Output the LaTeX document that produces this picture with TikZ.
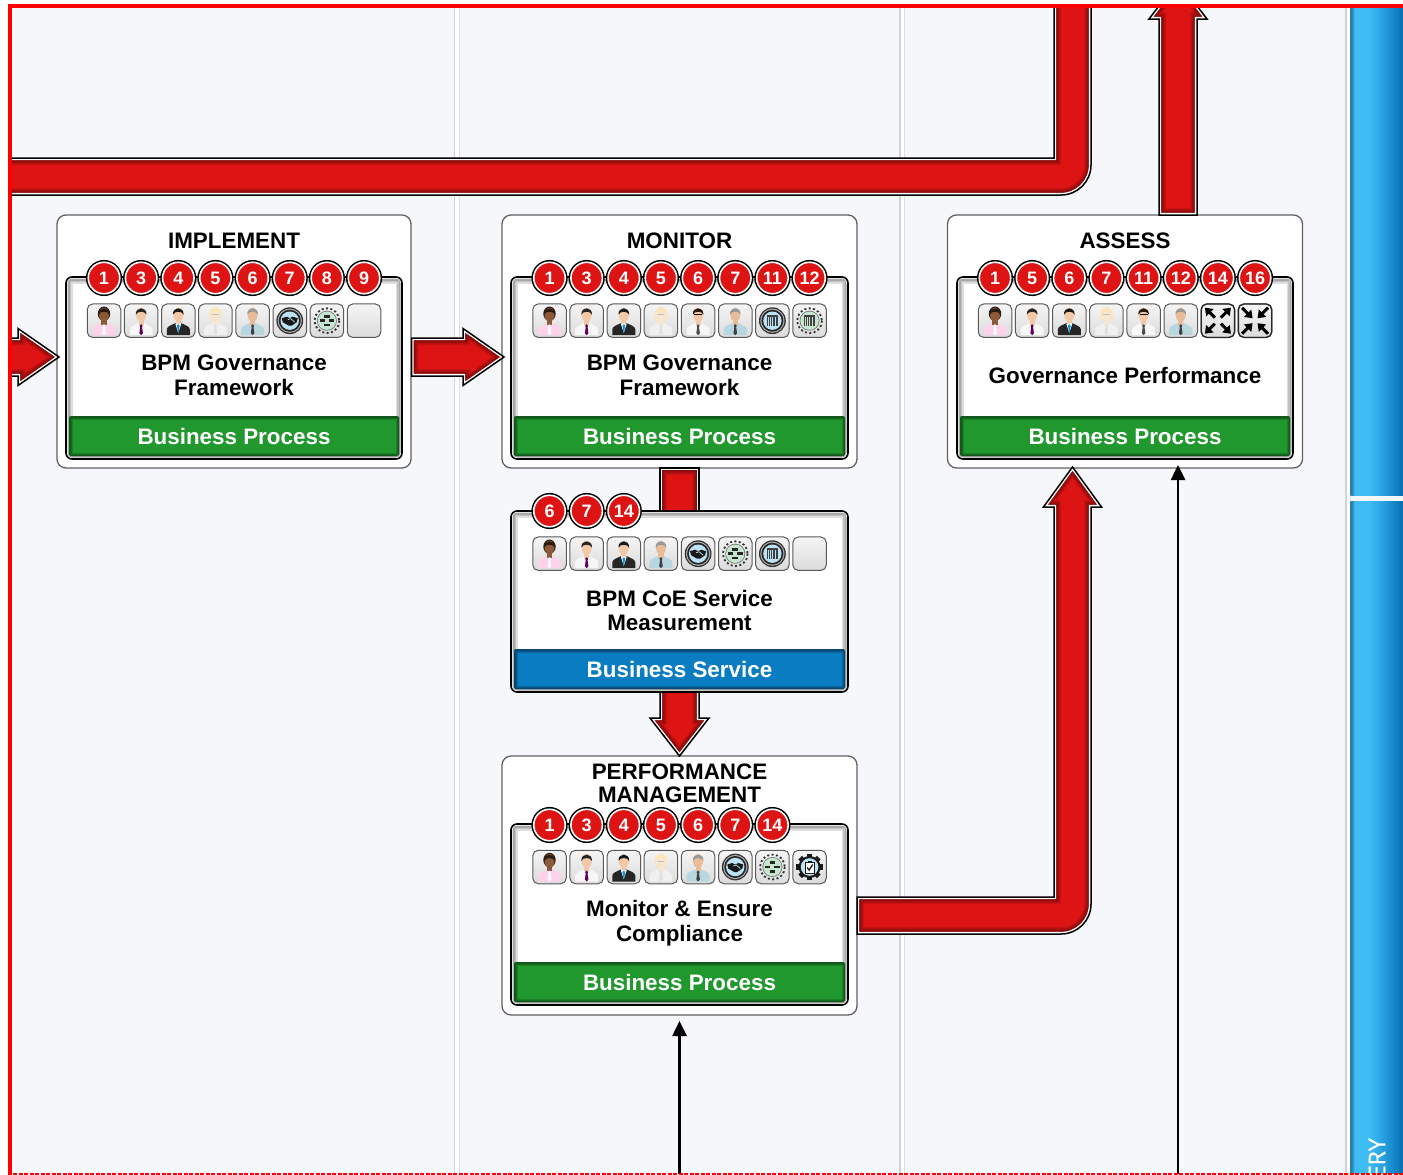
\documentclass[tikz,border=0pt]{standalone}
\usepackage{fontspec}
\setmainfont{Liberation Sans}
\newfontfamily\eryfont[FakeBold=0.7]{Open Sans}
\usetikzlibrary{calc,arrows.meta}
\definecolor{pagebg}{HTML}{F5F7FA}
\definecolor{redbase}{HTML}{DE1414}
\definecolor{greenbase}{HTML}{20982E}
\definecolor{bluebase}{HTML}{0A7CC2}
\definecolor{iceblue}{HTML}{BCE2F6}
\definecolor{mint}{HTML}{C6E6CE}
\definecolor{sepgray}{HTML}{CFD3D6}
\definecolor{skinA}{HTML}{8C5A38}
\definecolor{skinB}{HTML}{F2C8A6}
\definecolor{skinD}{HTML}{F6E6D2}
\definecolor{skinE}{HTML}{E8BC98}
\definecolor{stripZ}{HTML}{2A7FA8}
\definecolor{stripA}{HTML}{3DBDF4}
\definecolor{stripB}{HTML}{2EA8E6}
\definecolor{stripC}{HTML}{1486C8}
\definecolor{stripD}{HTML}{0B6CAC}
\pgfdeclarehorizontalshading{stripshade}{100bp}{
  color(0bp)=(stripZ);color(25bp)=(stripZ);color(26bp)=(stripZ);
  color(29bp)=(stripA);color(42bp)=(stripA);color(52bp)=(stripB);color(67bp)=(stripC);color(75bp)=(stripD);color(100bp)=(stripD)}
\pgfdeclarelayer{outerlayer}
\pgfdeclarelayer{arrowlayer}
\pgfdeclarelayer{toplayer}
\pgfsetlayers{outerlayer,arrowlayer,main,toplayer}
\tikzset{
  outerbox/.style={draw=black!62,fill=white,line width=1.3pt,rounded corners=9pt,inner sep=0pt,outer sep=0pt},
  framebox/.style={fill=white,inner sep=0pt,outer sep=0pt},
  bandbox/.style={inner sep=0pt,outer sep=0pt,rounded corners=2pt,text=white,
    font=\fontsize{22.4}{24}\selectfont\bfseries},
  titletext/.style={font=\fontsize{22.4}{23.2}\selectfont\bfseries,align=center,inner sep=0pt},
  bodytext/.style={font=\fontsize{22.4}{24.8}\selectfont\bfseries,align=center,inner sep=0pt},
  badge/.style={circle,minimum size=31.5pt,inner sep=0pt,outer sep=0pt,fill=redbase,draw=white,line width=1.6pt,
    text=white,font=\fontsize{18}{18}\selectfont\bfseries,
    preaction={draw=black,line width=4.6pt}},
  tile/.style={minimum size=33.5pt,inner sep=0pt,outer sep=0pt,rounded corners=5.5pt,draw=black!65,line width=1pt,
    top color=white!96!black,bottom color=black!14},
  feedline/.style={black,line width=2.6pt,-{Triangle[length=15pt,width=14pt]}},
}
\newcommand\redshape[1]{%
  \begin{scope}\clip #1;\fill[redbase] #1;
    \foreach \w in {14,12,10,8,6}{\draw[black,opacity=.09,line width=\w pt] #1;}
    \draw[white,line width=4.2pt] #1;
  \end{scope}
  \draw[black,line width=1.5pt] #1;}
% straight block arrows: tail, tip
\newcommand\arrowR[2]{\redshape{($(#1)+(0,-19)$) -- ($(#2)+(-41,-19)$) -- ($(#2)+(-41,-28.5)$) -- (#2) -- ($(#2)+(-41,28.5)$) -- ($(#2)+(-41,19)$) -- ($(#1)+(0,19)$) -- cycle}}
\newcommand\arrowU[2]{\redshape{($(#1)+(-19,0)$) -- ($(#2)+(-19,38)$) -- ($(#2)+(-29,38)$) -- (#2) -- ($(#2)+(29,38)$) -- ($(#2)+(19,38)$) -- ($(#1)+(19,0)$) -- cycle}}
\newcommand\arrowD[2]{\redshape{($(#1)+(-19.5,0)$) -- ($(#2)+(-19.5,-38)$) -- ($(#2)+(-29.5,-38)$) -- (#2) -- ($(#2)+(29.5,-38)$) -- ($(#2)+(19.5,-38)$) -- ($(#1)+(19.5,0)$) -- cycle}}
\newcommand\shaftD[2]{\redshape{($(#1)+(-19.5,0)$) -- ($(#2)+(-19.5,0)$) -- ($(#2)+(19.5,0)$) -- ($(#1)+(19.5,0)$) -- cycle}}
\newcommand\taskframe[7]{%
  \node[framebox,minimum width={(#4-#2)*1pt},minimum height={(#5-#3)*1pt}] (#1) at ({(#2+#4)/2},{(#3+#5)/2}) {};
  \begin{scope}
    \clip[rounded corners=6pt] (#1.south west) rectangle (#1.north east);
    \foreach \w in {13,10,7}{\draw[black,opacity=.13,line width=\w pt] (#1.south west) rectangle (#1.north east);}
    \draw[white,line width=3pt,rounded corners=6pt] (#1.south west) rectangle (#1.north east);
  \end{scope}
  \node[bandbox,fill=#6,minimum width={(#4-#2-6)*1pt},minimum height=40pt] (#1band) at ({(#2+#4)/2},{#5-23}) {#7};
  \begin{scope}
    \clip[rounded corners=2pt] (#1band.south west) rectangle (#1band.north east);
    \foreach \w in {7,5,3}{\draw[black,opacity=.16,line width=\w pt] (#1band.south west) rectangle (#1band.north east);}
  \end{scope}
  \draw[black,line width=1.6pt,rounded corners=6pt] (#1.south west) rectangle (#1.north east);}
\newcommand\badges[4]{%
  \foreach \n [count=\i] in {#4}{\node[badge] (#1b\i) at ({#2+(\i-1)*37.15},#3) {\n};}}
\newcommand\icons[4]{%
  \foreach \c [count=\i] in {#4}{%
    \begin{scope}[shift={({#2+(\i-1)*37.15},#3)}]
      \node[tile] (#1t\i) at (0,0) {};
      \csname ic\c\endcsname
    \end{scope}}}
% args: skin, hair, shirt, tie
\newcommand\personfig[4]{%
  \fill[#3] (-11.5,14.5) -- (-11.5,8.5) .. controls (-11,5.5) and (-7,4.5) .. (-3,2.5) -- (3,2.5) .. controls (7,4.5) and (11,5.5) .. (11.5,8.5) -- (11.5,14.5) -- cycle;
  \fill[#1] (-2.6,-2) rectangle (2.6,4);
  \fill[#1] (0,-6) ellipse (5 and 7);
  \fill[#2] (-5.3,-6) .. controls (-6,-14.5) and (6,-14.5) .. (5.3,-6) .. controls (4,-10) and (-4,-10) .. cycle;
  \fill[#4] (0,3.5) -- (-1.5,5) -- (-0.9,6.5) -- (-1.8,12.5) -- (0,14.5) -- (1.8,12.5) -- (0.9,6.5) -- (1.5,5) -- cycle;}
\newcommand\ica{%
  \fill[black!70!skinA] (0,-7) ellipse (6.2 and 7.2);
  \personfig{skinA}{black!70!skinA}{pink!75!magenta!40!white}{white}}
\newcommand\icb{\personfig{skinB}{black!85}{white!97!black}{violet!75!black}}
\newcommand\icc{\personfig{skinB}{black!90}{black!85}{black!85}
  \fill[white] (-3,3) -- (3,3) -- (0,12) -- cycle;
  \fill[cyan!80!blue] (0,3.5) -- (-1.4,5) -- (0,13) -- (1.4,5) -- cycle;}
\newcommand\icd{%
  \fill[yellow!30!orange!25!white] (0,-6) ellipse (6.4 and 7.6);
  \personfig{skinD}{yellow!30!orange!25!white}{white!94!black}{white!88!black}
  \draw[black!25,line width=.6pt] (-3.5,-6) -- (3.5,-6);}
\newcommand\ice{\personfig{skinE}{black!40}{blue!25!cyan!18!white!88!black}{black!75}}
\newcommand\icf{\personfig{skinB}{black!80!brown}{white!97!black}{black!70}
  \draw[black,line width=.8pt] (-4,-6) -- (4,-6);}
\newcommand\ringbase{%
  \fill[black!80] (0,0) circle (13.4);\fill[black!30] (0,0) circle (12.1);
  \fill[black!85] (0,0) circle (11);\fill[iceblue] (0,0) circle (9.2);}
\newcommand\gearbase{%
  \draw[black!80,line width=1.8pt,dash pattern=on 2pt off 2.4pt] (0,0) circle (12.4);
  \fill[black!55] (0,0) circle (10);\fill[mint] (0,0) circle (9.2);}
\newcommand\handglyph{%
  \fill[black!90] (-8,-2.5) -- (-3,-4) -- (0,-2.5) -- (3,-4) -- (8,-2.5) -- (7,1.5) -- (2,5) -- (-1,5) -- (-7,1.5) -- cycle;
  \draw[iceblue,line width=.7pt] (-2,-1) -- (1,-2) -- (5,1.5);}
\newcommand\barglyph{%
  \fill[black!75] (-5.5,-6) rectangle (5.5,-4);
  \foreach \xx/\ww in {-5.5/1.2,-3.4/.7,-1.9/1.3,.2/.7,1.6/1.1,3.4/.6,4.5/1}{\fill[black!75] (\xx,-4) rectangle ++(\ww,9);}}
\newcommand\ichand{\ringbase\handglyph}
\newcommand\icbar{\ringbase\barglyph}
\newcommand\icbargear{\gearbase\barglyph}
\newcommand\icflow{\gearbase
  \fill[black!85] (-2.8,-5.6) rectangle (2.8,-3);
  \fill[black!85] (-7.4,-1.3) rectangle (-2,1.3);
  \fill[black!85] (2,-1.3) rectangle (7.4,1.3);
  \fill[black!85] (-2.8,3) rectangle (2.8,5.6);}
\newcommand\iccheck{%
  \foreach \a in {0,45,...,315}{\fill[black!90,rotate=\a] (-2.6,-13.2) rectangle (2.6,-8);}
  \fill[black!90] (0,0) circle (11);\fill[iceblue] (0,0) circle (8.8);
  \fill[white,draw=black!90,line width=1pt] (-4.5,-5) rectangle (4.5,6);
  \fill[black!90] (-2,-6.4) rectangle (2,-4);
  \draw[black!90,line width=1.3pt] (-2.5,0.5) -- (-.5,3) -- (3.2,-2.5);}
\newcommand\cornerframe{\draw[black!85,line width=1.3pt,rounded corners=5.5pt] (-16.7,-16.7) rectangle (16.7,16.7);}
\newcommand\icexp{\cornerframe
  \foreach \sx/\sy in {1/1,1/-1,-1/1,-1/-1}{\draw[black,line width=3pt,-{Triangle[length=7pt,width=10pt]}] (\sx*3,\sy*3) -- (\sx*13,\sy*13);}}
\newcommand\iccom{\cornerframe
  \foreach \sx/\sy in {1/1,1/-1,-1/1,-1/-1}{\draw[black,line width=3pt,-{Triangle[length=7pt,width=10pt]}] (\sx*13,\sy*13) -- (\sx*2.5,\sy*2.5);}}
\newcommand\icnone{}
\begin{document}
\begin{tikzpicture}[x=1pt,y=-1pt]
\useasboundingbox (0,0) rectangle (1403,1175);
\begin{pgfonlayer}{outerlayer}
  \fill[pagebg] (0,0) rectangle (1403,1175);
  \foreach \sx in {453.5,899.3,1344.8}{
    \fill[sepgray] (\sx,0) rectangle ++(1.8,1175);
    \fill[white] (\sx+1.8,0) rectangle ++(3.2,1175);
    \fill[sepgray!70] (\sx+5,0) rectangle ++(1,1175);}
  \shade[shading=stripshade] (1350.5,0) rectangle (1403,495.5);
  \shade[shading=stripshade] (1350.5,501.5) rectangle (1403,1175);
  \node[outerbox,minimum width=354pt,minimum height=253pt] (impl) at (234,341.5) {};
  \node[outerbox,minimum width=355pt,minimum height=253pt] (mon) at (679.5,341.5) {};
  \node[outerbox,minimum width=355pt,minimum height=253pt] (ass) at (1125,341.5) {};
  \node[outerbox,minimum width=355pt,minimum height=259pt] (perf) at (679.5,885.5) {};
\end{pgfonlayer}

\node[rotate=90,anchor=east,text=white,inner sep=0pt,font=\eryfont\fontsize{23}{23}\selectfont] (erylabel) at (1377,1138) {ERY};

% task frames with band
\taskframe{implF}{66}{277}{402}{459}{greenbase}{Business Process}
\taskframe{monF}{511}{277}{848}{459}{greenbase}{Business Process}
\taskframe{assF}{957}{277}{1293}{459}{greenbase}{Business Process}
\taskframe{svc}{511}{511}{848}{692}{bluebase}{Business Service}
\taskframe{perfF}{511}{824}{848}{1005}{greenbase}{Business Process}

\node[titletext] (implT) at (234,241) {IMPLEMENT};
\node[titletext] (monT) at (679.5,241) {MONITOR};
\node[titletext] (assT) at (1125,241) {ASSESS};
\node[titletext] (perfT) at (679.5,783.5) {PERFORMANCE\\MANAGEMENT};

\node[bodytext] (implB) at (234,375.5) {BPM Governance\\Framework};
\node[bodytext] (monB) at (679.5,375.5) {BPM Governance\\Framework};
\node[bodytext] (assB) at (1125,375.5) {Governance Performance};
\node[bodytext] (svcB) at (679.5,610.5) {BPM CoE Service\\Measurement};
\node[bodytext] (perfB) at (679.5,923) {Monitor \& Ensure\\Compliance};

\icons{impl}{104}{320.7}{a,b,c,d,e,hand,flow,none}
\icons{mon}{549.5}{320.7}{a,b,c,d,f,e,bar,bargear}
\icons{ass}{995}{320.7}{a,b,c,d,f,e,exp,com}
\icons{svc}{549.5}{553.7}{a,b,c,e,hand,flow,bar,none}
\icons{perf}{549.5}{867}{a,b,c,d,e,hand,flow,check}

\badges{impl}{104}{278}{1,3,4,5,6,7,8,9}
\badges{mon}{549.5}{278}{1,3,4,5,6,7,11,12}
\badges{ass}{995}{278}{1,5,6,7,11,12,14,16}
\badges{svc}{549.5}{511}{6,7,14}
\badges{perf}{549.5}{825}{1,3,4,5,6,7,14}

\begin{pgfonlayer}{arrowlayer}
  \coordinate (lvl) at (0,357);
  \coordinate (upx) at (1178,0);
  \coordinate (upTip) at (1178,-19);
  \coordinate (inTail) at (-5,357);
  \coordinate (implIn) at ($(impl.west |- lvl)+(2,0)$);
  \coordinate (implOut) at ($(impl.east |- lvl)+(0.5,0)$);
  \coordinate (monIn) at ($(mon.west |- lvl)+(2,0)$);
  \coordinate (assTop) at (upx |- ass.north);
  \coordinate (svcTop) at ($(svc.north)+(0,6)$);
  \coordinate (svcBot) at ($(svc.south)+(0,-6)$);
  \arrowR{inTail}{implIn}
  \arrowR{implOut}{monIn}
  \arrowU{assTop}{upTip}
  \shaftD{mon.south}{svcTop}
  \arrowD{svcBot}{perf.north}
  % return band along the top
  \redshape{(-5,158) -- (1054,158) -- (1054,-8) -- (1091,-8) [rounded corners=30pt] -- (1091,195) [sharp corners] -- (-5,195) -- cycle}
  % from PERFORMANCE MANAGEMENT to ASSESS
  \coordinate (pmOut) at ($(perf.east)+(0,30)$);
  \coordinate (asTip) at (1072.5,467);
  \redshape{($(pmOut)+(0,-18.5)$) -- ($(asTip |- pmOut)+(-18.5,-18.5)$) -- ($(asTip)+(-18.5,40)$) -- ($(asTip)+(-29,40)$) -- (asTip) -- ($(asTip)+(29,40)$) -- ($(asTip)+(18.5,40)$) [rounded corners=30pt] -- ($(asTip |- pmOut)+(18.5,18.5)$) [sharp corners] -- ($(pmOut)+(0,18.5)$) -- cycle}
\end{pgfonlayer}

\begin{pgfonlayer}{toplayer}
  \coordinate (feedA) at (679.5,1180);
  \coordinate (feedB) at (1178,1180);
  \draw[feedline] (feedA) -- ([yshift=-6pt]perf.south);
  \draw[feedline] (feedB) -- ([yshift=3pt]ass.south -| feedB);
  % page edge
  \fill[white] (0,0) rectangle (7.7,1175);
  \fill[white] (0,0) rectangle (1403,4);
  \fill[red] (7.7,4) rectangle (11.7,1175);
  \fill[red] (7.7,4) rectangle (1403,7.6);
  \fill[white] (0,1173.6) rectangle (1403,1175);
  \draw[red,line width=1.4pt,dash pattern=on 4pt off 1.5pt] (7.7,1173.8) -- (1403,1173.8);
\end{pgfonlayer}
\end{tikzpicture}
\end{document}
